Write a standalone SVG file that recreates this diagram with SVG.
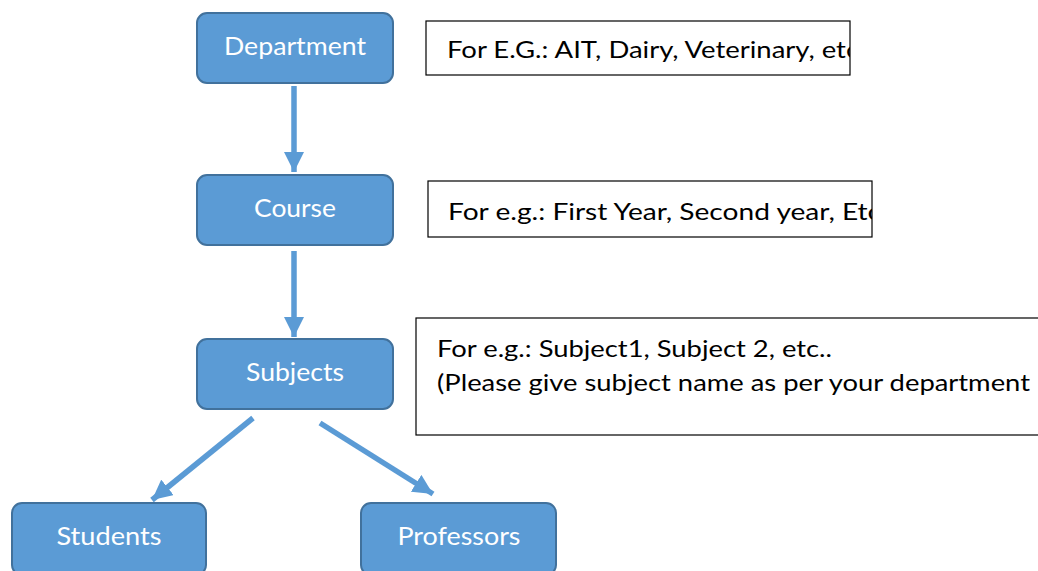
<svg xmlns="http://www.w3.org/2000/svg" width="1038" height="571" viewBox="0 0 1038 571">
<style>
.node rect{fill:#5b9bd5;stroke:#41719c;stroke-width:2}
.node text{fill:#ffffff;font-family:Lato,"Liberation Sans",Arial,sans-serif;font-size:25px;text-anchor:middle}
.note rect{fill:#ffffff;stroke:#000000;stroke-width:1.2}
.note text{fill:#000000;font-family:Lato,"Liberation Sans",Arial,sans-serif;font-size:24px}
.conn line{stroke:#5b9bd5;stroke-width:5.5;marker-end:url(#ah)}
</style>
<defs>
<marker id="ah" markerUnits="userSpaceOnUse" markerWidth="20" markerHeight="20" viewBox="0 0 18 18" refX="18" refY="9" orient="auto">
<path d="M0,0 L18,9 L0,18 Z" fill="#5b9bd5"/>
</marker>
<clipPath id="c1"><rect x="426" y="21" width="424" height="54"/></clipPath>
<clipPath id="c2"><rect x="428" y="181" width="444" height="56"/></clipPath>
<clipPath id="c3"><rect x="416" y="318" width="622" height="117"/></clipPath>
</defs>
<g class="conn">
<line x1="294" y1="86" x2="294" y2="172"/>
<line x1="294" y1="251" x2="294" y2="337"/>
<line x1="253" y1="418" x2="152" y2="500"/>
<line x1="320" y1="423" x2="433" y2="494"/>
</g>
<g id="department" class="node"><rect x="197" y="13" width="196" height="70" rx="10"/><text x="295" y="55" textLength="142" lengthAdjust="spacingAndGlyphs">Department</text></g>
<g id="course" class="node"><rect x="197" y="175" width="196" height="70" rx="10"/><text x="295" y="217" textLength="82" lengthAdjust="spacingAndGlyphs">Course</text></g>
<g id="subjects" class="node"><rect x="197" y="339" width="196" height="70" rx="10"/><text x="295" y="381" textLength="98" lengthAdjust="spacingAndGlyphs">Subjects</text></g>
<g id="students" class="node"><rect x="12" y="503" width="194" height="72" rx="10"/><text x="109" y="545" textLength="105" lengthAdjust="spacingAndGlyphs">Students</text></g>
<g id="professors" class="node"><rect x="361" y="503" width="195" height="72" rx="10"/><text x="459" y="545" textLength="123" lengthAdjust="spacingAndGlyphs">Professors</text></g>
<g id="note1" class="note"><rect x="426" y="21" width="424" height="54"/><text x="447" y="58" clip-path="url(#c1)" textLength="412" lengthAdjust="spacingAndGlyphs">For E.G.: AIT, Dairy, Veterinary, etc</text></g>
<g id="note2" class="note"><rect x="428" y="181" width="444" height="56"/><text x="448" y="220" clip-path="url(#c2)" textLength="433" lengthAdjust="spacingAndGlyphs">For e.g.: First Year, Second year, Etc</text></g>
<g id="note3" class="note"><rect x="416" y="318" width="630" height="117"/>
<text x="437" y="357" clip-path="url(#c3)" textLength="395" lengthAdjust="spacingAndGlyphs">For e.g.: Subject1, Subject 2, etc..</text>
<text x="437" y="391" clip-path="url(#c3)" textLength="593" lengthAdjust="spacingAndGlyphs">(Please give subject name as per your department</text></g>
</svg>
